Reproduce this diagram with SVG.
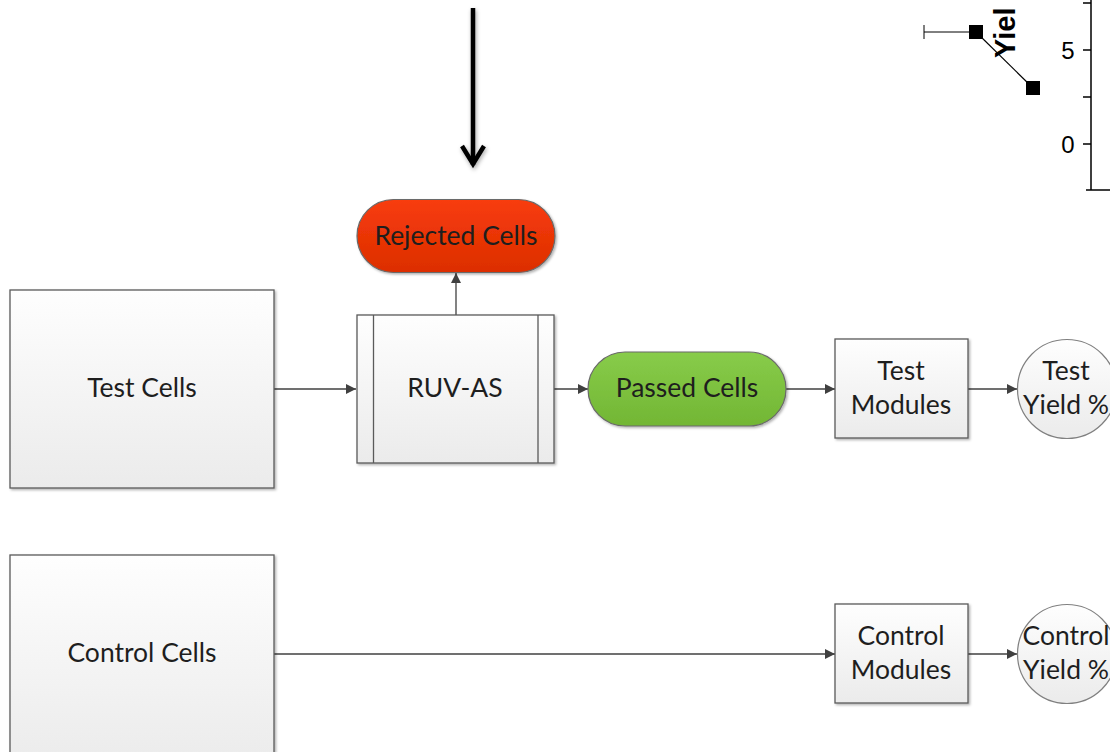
<svg xmlns="http://www.w3.org/2000/svg" width="1110" height="752" viewBox="0 0 1110 752">
  <defs>
    <linearGradient id="boxFill" x1="0" y1="0" x2="0" y2="1">
      <stop offset="0" stop-color="#fefefe"/>
      <stop offset="1" stop-color="#ebebeb"/>
    </linearGradient>
    <linearGradient id="redFill" x1="0" y1="0" x2="0" y2="1">
      <stop offset="0" stop-color="#f83c0c"/>
      <stop offset="1" stop-color="#dc2e00"/>
    </linearGradient>
    <linearGradient id="greenFill" x1="0" y1="0" x2="0" y2="1">
      <stop offset="0" stop-color="#88cc4a"/>
      <stop offset="1" stop-color="#72b634"/>
    </linearGradient>
    <filter id="shadow" x="-10%" y="-10%" width="125%" height="125%">
      <feDropShadow dx="1.5" dy="1.5" stdDeviation="1" flood-color="#000" flood-opacity="0.3"/>
    </filter>
    <filter id="bigShadow" x="-100%" y="-10%" width="300%" height="125%">
      <feDropShadow dx="1" dy="2" stdDeviation="2" flood-color="#000" flood-opacity="0.35"/>
    </filter>
    <marker id="arrow" viewBox="0 0 10 10" refX="10" refY="5" markerWidth="11" markerHeight="10" markerUnits="userSpaceOnUse" orient="auto">
      <path d="M0,0 L10,5 L0,10 Z" fill="#404040"/>
    </marker>
  </defs>
  <style>
    .box { fill: url(#boxFill); stroke: #5a5a5a; stroke-width: 1.3; filter: url(#shadow); }
    .circ { fill: url(#boxFill); stroke: #808080; stroke-width: 1.2; }
    .label { font-family: Lato, "Open Sans", sans-serif; font-size: 26.5px; fill: #1e1e1e; text-anchor: middle; }
    .conn { fill: none; stroke: #404040; stroke-width: 1.3; marker-end: url(#arrow); }
    .axis { fill: none; stroke: #000; stroke-width: 1.5; }
    .tick { font-family: "Liberation Sans", Arial, sans-serif; font-size: 24px; fill: #000; text-anchor: middle; }
  </style>

  <!-- chart fragment, upper right -->
  <g id="chart">
    <path class="axis" d="M1091,0 V190 M1086,190 H1110 M1083,3 H1091 M1083,50 H1091 M1083,97 H1091 M1083,144 H1091"/>
    <text class="tick" x="1068" y="59">5</text>
    <text class="tick" x="1068" y="153">0</text>
    <text x="1015" y="58" transform="rotate(-90 1015 58)" font-family="Liberation Sans, Arial, sans-serif" font-weight="bold" font-size="29" fill="#000">Yiel</text>
    <path d="M924,32 H976 M924,25 V39" stroke="#000" stroke-width="1" fill="none"/>
    <path d="M976,32 L1033,88" stroke="#000" stroke-width="1.2" fill="none"/>
    <rect x="969" y="25" width="14" height="14" fill="#000"/>
    <rect x="1026" y="81" width="14" height="14" fill="#000"/>
  </g>

  <!-- heavy downward arrow -->
  <g id="feed-arrow" filter="url(#bigShadow)">
    <path d="M473,8 V165" stroke="#000" stroke-width="4.5" fill="none"/>
    <path d="M462,146 L473,164 L484,146" stroke="#000" stroke-width="4.5" fill="none" stroke-linejoin="miter"/>
  </g>

  <!-- connectors -->
  <g id="connectors">
    <path class="conn" d="M274,389 H356"/>
    <path class="conn" d="M456,315 V273"/>
    <path class="conn" d="M554,389 H588"/>
    <path class="conn" d="M786,389 H835"/>
    <path class="conn" d="M968,389 H1017"/>
    <path class="conn" d="M274,654 H835"/>
    <path class="conn" d="M968,654 H1017"/>
  </g>

  <g id="test-cells">
    <rect class="box" x="10" y="290" width="264" height="198"/>
    <text class="label" x="142" y="397">Test Cells</text>
  </g>

  <g id="control-cells">
    <rect class="box" x="10" y="555" width="264" height="210"/>
    <text class="label" x="142" y="662">Control Cells</text>
  </g>

  <g id="ruv-as">
    <rect class="box" x="357" y="315" width="197" height="148"/>
    <path d="M373.5,315 V463 M538,315 V463" stroke="#5a5a5a" stroke-width="1.3"/>
    <text class="label" x="455" y="397">RUV-AS</text>
  </g>

  <g id="rejected-cells">
    <rect x="357" y="199.5" width="198" height="73" rx="36.5" fill="url(#redFill)" stroke="#6a6a6a" stroke-width="1.2" filter="url(#shadow)"/>
    <text class="label" x="456" y="245" fill="#2a0a00">Rejected Cells</text>
  </g>

  <g id="passed-cells">
    <rect x="588" y="352" width="198" height="74" rx="37" fill="url(#greenFill)" stroke="#6a6a6a" stroke-width="1.2" filter="url(#shadow)"/>
    <text class="label" x="687" y="397">Passed Cells</text>
  </g>

  <g id="test-modules">
    <rect class="box" x="835" y="339" width="133" height="99"/>
    <text class="label" x="901" y="380">Test</text>
    <text class="label" x="901" y="414">Modules</text>
  </g>

  <g id="test-yield">
    <circle class="circ" cx="1067" cy="389" r="49.5"/>
    <text class="label" x="1066" y="380">Test</text>
    <text class="label" x="1066" y="414">Yield %</text>
  </g>

  <g id="control-modules">
    <rect class="box" x="835" y="604" width="133" height="99"/>
    <text class="label" x="901" y="645">Control</text>
    <text class="label" x="901" y="679">Modules</text>
  </g>

  <g id="control-yield">
    <circle class="circ" cx="1067" cy="654" r="49.5"/>
    <text class="label" x="1066" y="645">Control</text>
    <text class="label" x="1066" y="679">Yield %</text>
  </g>
</svg>
